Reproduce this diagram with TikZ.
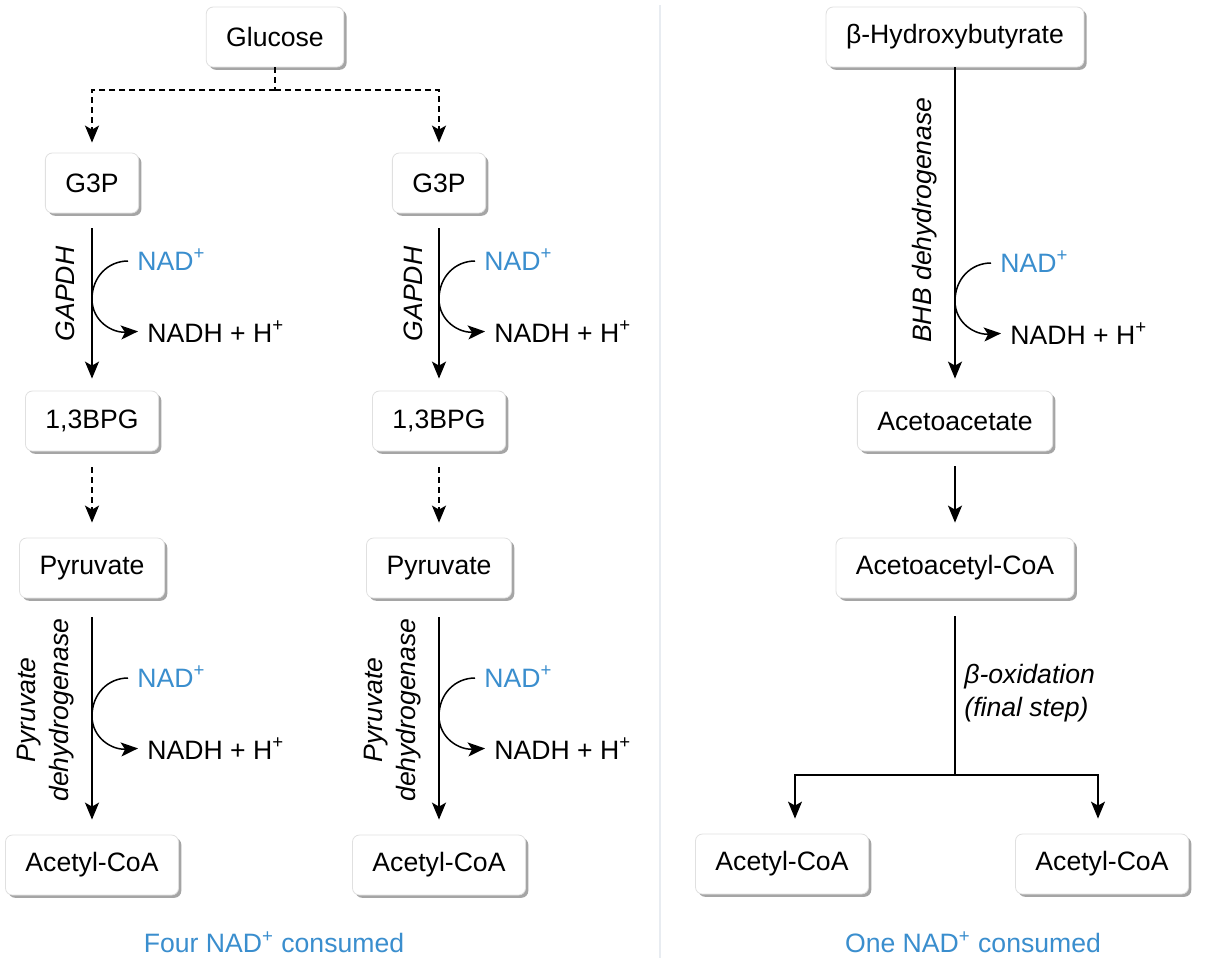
\documentclass[tikz,border=0pt]{standalone}
\usepackage{fontspec}
\setmainfont{Liberation Sans}
\usetikzlibrary{arrows.meta,shadows,calc}
\definecolor{nadblue}{RGB}{58,142,206}
\definecolor{divcol}{RGB}{232,236,241}
\newcommand\myfs{\fontsize{13.3pt}{16.5pt}\selectfont}
\tikzset{
  pbox/.style={rounded corners=3.5pt, draw=black!12, line width=0.4pt, fill=white,
    minimum height=30pt, inner xsep=10pt, inner ysep=0pt, font=\myfs,
    drop shadow={shadow xshift=1.4pt, shadow yshift=-1.4pt, opacity=0.5, fill=black!70}},
  ptip/.tip={Stealth[length=8.5pt,width=7pt,inset=2pt]},
  flow/.style={line width=0.9pt, -ptip},
  dashline/.style={line width=0.9pt, dash pattern=on 3pt off 2pt},
  dashflow/.style={dashline, -ptip},
  thinline/.style={line width=0.7pt},
  thinflow/.style={thinline, -ptip},
  curvearrow/.style={line width=0.75pt, -ptip},
  enz/.style={font=\myfs\itshape, inner sep=0pt},
  nad/.style={font=\myfs, text=nadblue, inner sep=0pt},
  nadh/.style={font=\myfs, inner sep=0pt},
  capt/.style={font=\myfs, text=nadblue, inner sep=0pt},
  divline/.style={draw=divcol, line width=1pt}
}
\newcommand\cofactor[3]{%
  \node[nad, anchor=base west] (#1n) at ({#2+45},{#3+9}) {NAD\textsuperscript{+}};
  \node[nadh, anchor=base west] (#1h) at ({#2+55},{#3+81}) {NADH + H\textsuperscript{+}};
  \draw[curvearrow] ({#2+36},{#3}) .. controls ({#2+16},{#3}) and ({#2},{#3+16}) .. ({#2},{#3+38})
     .. controls ({#2},{#3+60}) and ({#2+20},{#3+72}) .. ([xshift=-4.5pt]#1h.west);
}
\begin{document}
\begin{tikzpicture}[x=0.5pt,y=-0.5pt]
\fill[white] (0,0) rectangle (1222,966);
\useasboundingbox (0,0) rectangle (1222,966);
\draw[divline] (660,5) -- (660,958);

% boxes
\node[pbox] (glu) at (275,37) {Glucose};
\node[pbox] (g3pa) at (92,183) {G3P};
\node[pbox] (g3pb) at (439,183) {G3P};
\node[pbox] (bpga) at (92,421) {1,3BPG};
\node[pbox] (bpgb) at (439,421) {1,3BPG};
\node[pbox] (pyra) at (92,568) {Pyruvate};
\node[pbox] (pyrb) at (439,568) {Pyruvate};
\node[pbox] (acoa) at (92,865) {Acetyl-CoA};
\node[pbox] (acob) at (439,865) {Acetyl-CoA};

\node[pbox] (bhb) at (955,37) {β-Hydroxybutyrate};
\node[pbox] (aca) at (955,421) {Acetoacetate};
\node[pbox] (acac) at (955,568) {Acetoacetyl-CoA};
\node[pbox] (accl) at (782,864) {Acetyl-CoA};
\node[pbox] (accr) at (1102,864) {Acetyl-CoA};

% glucose split
\coordinate (gj) at (275,90);
\draw[dashline] (glu) -- (gj);
\draw[dashflow] (gj) -| ([yshift=5pt]g3pa.north);
\draw[dashflow] (gj) -| ([yshift=5pt]g3pb.north);

% left columns
\draw[flow, shorten <=7.5pt, shorten >=6pt] (g3pa) -- (bpga);
\draw[flow, shorten <=7.5pt, shorten >=6pt] (g3pb) -- (bpgb);
\draw[dashflow, shorten <=8pt, shorten >=7.5pt] (bpga) -- (pyra);
\draw[dashflow, shorten <=8pt, shorten >=7.5pt] (bpgb) -- (pyrb);
\draw[flow, shorten <=9.5pt, shorten >=7.5pt] (pyra) -- (acoa);
\draw[flow, shorten <=9.5pt, shorten >=7.5pt] (pyrb) -- (acob);

\node[enz, rotate=90] (gapa) at (65,294) {GAPDH};
\node[enz, rotate=90] (gapb) at (413,294) {GAPDH};
\node[enz, rotate=90, align=center] (pdha) at (46,710) {Pyruvate\\dehydrogenase};
\node[enz, rotate=90, align=center] (pdhb) at (393,710) {Pyruvate\\dehydrogenase};

\cofactor{ca}{92}{261}
\cofactor{cb}{439}{261}
\cofactor{cc}{92}{678}
\cofactor{cd}{439}{678}

% right column
\draw[flow, shorten >=6pt] (bhb) -- (aca);
\node[enz, rotate=90] (bhbd) at (925,220) {BHB dehydrogenase};
\cofactor{ce}{955}{263}
\draw[flow, shorten <=7.5pt, shorten >=7.5pt] (aca) -- (acac);
\coordinate (jn) at (955,775);
\draw[thinline, shorten <=9pt] (acac) -- (jn);
\draw[thinflow] (jn) -| ([xshift=6.5pt,yshift=7.5pt]accl.north);
\draw[thinflow] (jn) -| ([xshift=-2pt,yshift=7.5pt]accr.north);
\node[enz, anchor=west, align=left] (boxd) at (964,693) {β-oxidation\\(final step)};

% captions
\node[capt] (capl) at (274,942) {Four NAD\textsuperscript{+} consumed};
\node[capt] (capr) at (973,942) {One NAD\textsuperscript{+} consumed};
\end{tikzpicture}
\end{document}
